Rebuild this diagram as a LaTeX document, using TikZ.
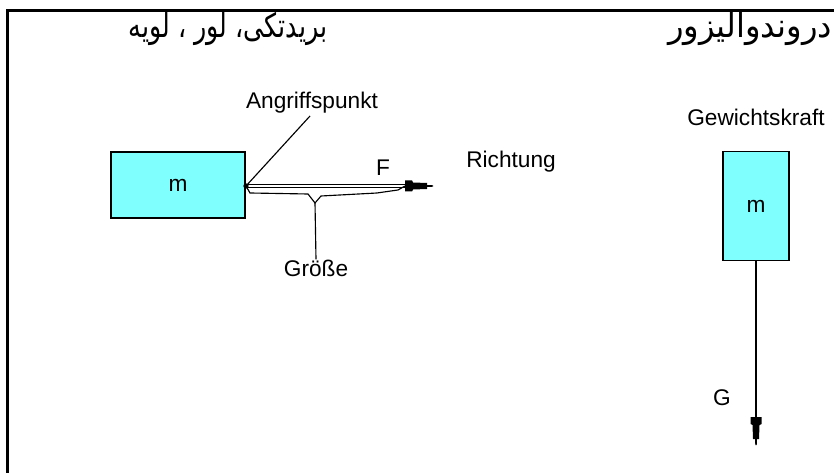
\documentclass[tikz,border=0pt]{standalone}
\usepackage{fontspec}
\setmainfont{Liberation Sans}
\newfontfamily\arabicfont[Script=Arabic]{DejaVu Sans}
\TeXXeTstate=1
\usetikzlibrary{calc}
\definecolor{boxcyan}{HTML}{80FFFF}
\begin{document}
\begin{tikzpicture}[x=0.75pt,y=-0.75pt,
  mass/.style={draw=black,fill=boxcyan,line width=1.1pt},
  lbl/.style={font=\fontsize{17}{20}\selectfont,inner sep=0pt},
  artext/.style={inner sep=0pt},
  thinline/.style={line width=0.85pt},
  fhead/.pic={\fill (0,-5.5) -- (7,-5.5) -- (8,-3.5) -- (22,-3) -- (22,-1) -- (28,-0.7) -- (28,0.7) -- (22,1) -- (22,3) -- (8,3.5) -- (7,5.5) -- (0,5.5) -- cycle;}]
\useasboundingbox (0,0) rectangle (834,473);
% frame
\draw[line width=2.25pt] (7.5,473) -- (7.5,10.5) -- (834,10.5);
% Arabic headings
\node[artext] (t1) at (228,29) {\resizebox*{149pt}{25pt}{\fontsize{20}{24}\arabicfont\beginR بريدتکی، لور ، لويه\endR}};
\node[artext] (t2) at (750,29) {\resizebox*{123pt}{25pt}{\fontsize{20}{24}\arabicfont\beginR دروندواليزور\endR}};
% left mass
\node[mass,minimum width=100.5pt,minimum height=49.5pt,inner sep=0pt] (m1) at (178,185) {};
\node[lbl] at (m1.center) {m};
\coordinate (P) at (246,186);
\coordinate (Fs) at (405,186);
% force shaft (double line)
\draw[line width=0.65pt,double=white,double distance=1.2pt] (P) -- (Fs);
\pic at (Fs) {fhead};
\fill (P) circle (2pt);
% Angriffspunkt
\node[lbl] (ang) at (312,103) {Angriffspunkt};
\coordinate (angend) at (310,116);
\draw[thinline] (P) -- (angend);
% F
\node[lbl] (F) at (383,168) {F};
% Richtung
\node[lbl] (rich) at (511,162) {Richtung};
% Groesse brace
\coordinate (bt) at (315,203);
\draw[thinline] (P) -- (250,193) -- (308,194) -- (bt) -- (321,196) -- (377,193) -- (398,190) -- (Fs);
\node[lbl] (gr) at (316,268) {Größe};
\draw[thinline] (bt) -- (gr.north);
% right mass
\node[lbl] (gew) at (756,117) {Gewichtskraft};
\node[mass,minimum width=49.5pt,minimum height=82pt,inner sep=0pt] (m2) at (756,206) {};
\node[lbl] at (m2.center) {m};
\coordinate (Gs) at (756,417);
\draw[line width=1.05pt] (m2.south) -- (Gs);
\pic[rotate=-90] at (Gs) {fhead};
\node[lbl] (G) at (722,398) {G};
\end{tikzpicture}
\end{document}
